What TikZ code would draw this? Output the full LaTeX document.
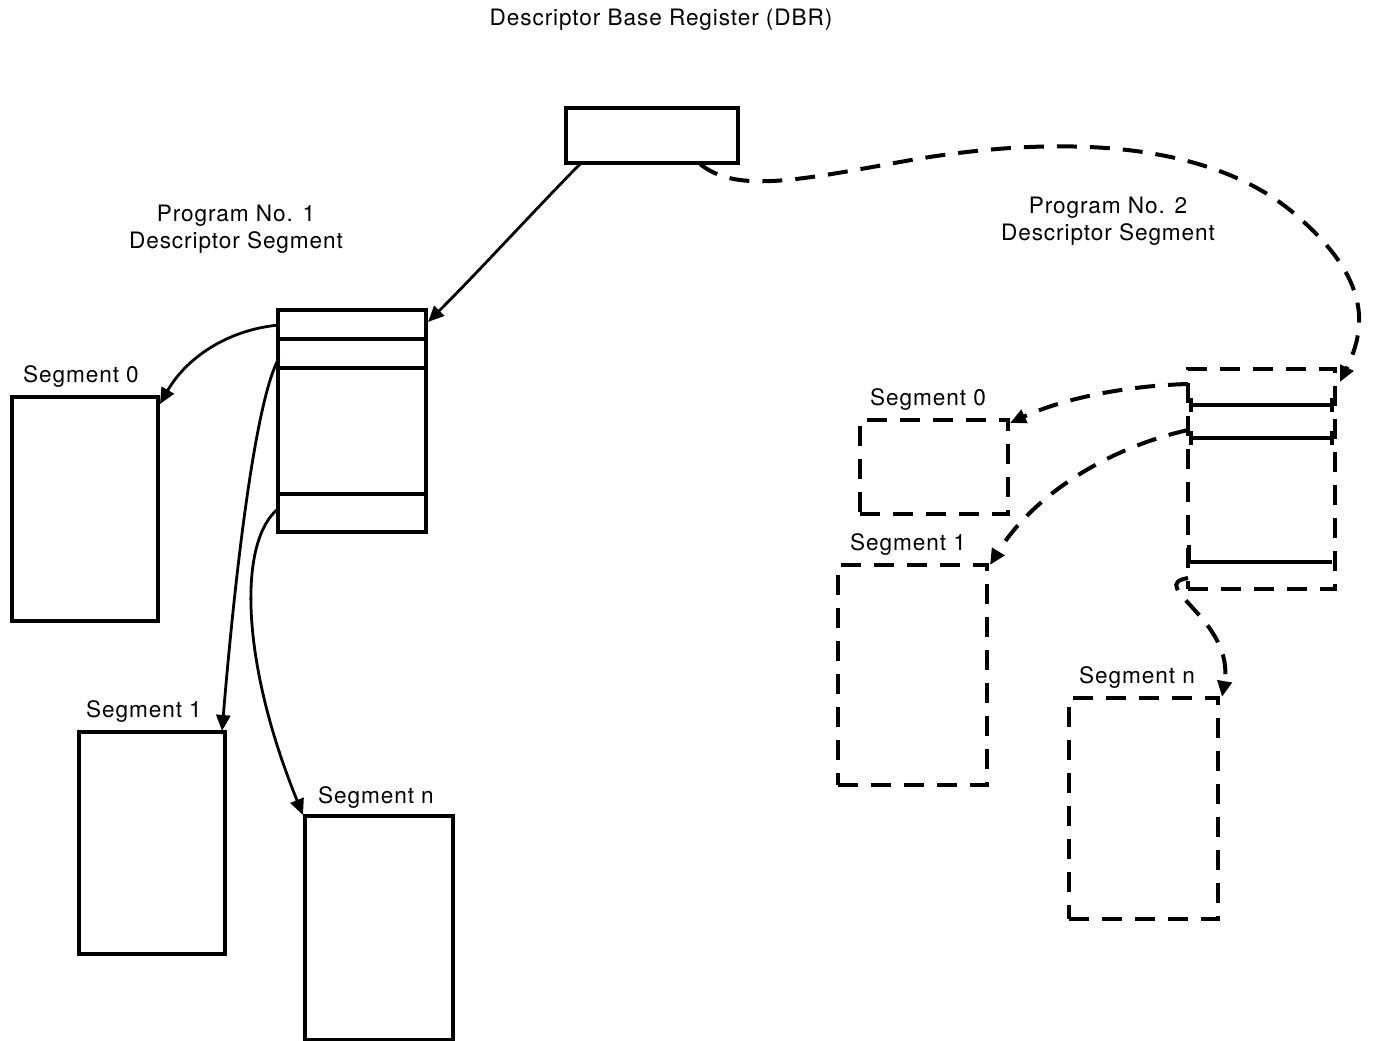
\documentclass[tikz,border=0pt]{standalone}
\usepackage{fontspec}
\setmainfont{TeX Gyre Heros}[LetterSpace=4]
\usetikzlibrary{arrows.meta}
\tikzset{
  solidbox/.style={draw, line width=2pt, rectangle, inner sep=0pt, outer sep=0pt, anchor=north west},
  dashbox/.style={draw, line width=2pt, rectangle, inner sep=0pt, outer sep=0pt, anchor=north west, dash pattern=on 10pt off 6.5pt},
  lbl/.style={font=\fontsize{11.3}{13.6}\selectfont, align=center, inner sep=0pt},
  conn/.style={line width=1.4pt, -{Triangle[length=8pt,width=7pt]}},
  dconn/.style={line width=2pt, dash pattern=on 10pt off 6.5pt, -{Triangle[length=8pt,width=7pt]}},
  row/.style={line width=2pt},
}
\begin{document}
\begin{tikzpicture}[x=0.5pt,y=-0.5pt]
\useasboundingbox (0,0) rectangle (1376,1040);
% Title
\node[lbl] (title) at (661,20) {Descriptor Base Register (DBR)};
% DBR
\node[solidbox, minimum width=86pt, minimum height=27.5pt] (dbr) at (566,108) {};
% Program 1
\node[lbl] (p1lbl) at (236,229) {Program No. 1\\Descriptor Segment};
\node[solidbox, minimum width=74pt, minimum height=111pt] (ds1) at (278,310) {};
\draw[row] (278,339) -- (426,339);
\draw[row] (278,368) -- (426,368);
\draw[row] (278,494) -- (426,494);
\node[solidbox, minimum width=73pt, minimum height=112pt] (s0L) at (12,397) {};
\node[lbl] (s0Llbl) at (81,377) {Segment 0};
\node[solidbox, minimum width=73pt, minimum height=111pt] (s1L) at (79,732) {};
\node[lbl] (s1Llbl) at (144,712) {Segment 1};
\node[solidbox, minimum width=74pt, minimum height=112pt] (snL) at (305,816) {};
\node[lbl] (snLlbl) at (376,798) {Segment n};
% Program 2
\node[lbl] (p2lbl) at (1108,221) {Program No. 2\\Descriptor Segment};
\node[dashbox, minimum width=73.5pt, minimum height=110pt] (ds2) at (1188,369) {};
\draw[row, {Bar[width=7pt]}-{Bar[width=7pt]}] (1189,405) -- (1334,405);
\draw[row, {Bar[width=7pt]}-{Bar[width=7pt]}] (1189,438) -- (1334,438);
\draw[row] (1189,545) -- (1189,562) -- (1332,562);
\node[dashbox, minimum width=74pt, minimum height=47pt] (s0R) at (860,420) {};
\node[lbl] (s0Rlbl) at (928,400) {Segment 0};
\node[dashbox, minimum width=74.5pt, minimum height=110pt] (s1R) at (838,565) {};
\node[lbl] (s1Rlbl) at (908,545) {Segment 1};
\node[dashbox, minimum width=74.5pt, minimum height=110.5pt] (snR) at (1069,698) {};
\node[lbl] (snRlbl) at (1137,678) {Segment n};
% connector end points
\coordinate (a1) at (580,164);
\coordinate (a1e) at (428,322);
\coordinate (b0) at (279,325);
\coordinate (b0e) at (160,404);
\coordinate (b1) at (279,358);
\coordinate (b1e) at (222,731);
\coordinate (bn) at (279,508);
\coordinate (bne) at (303,815);
\coordinate (c1) at (700,164);
\coordinate (c1e) at (1340,382);
\coordinate (d0) at (1188,384);
\coordinate (d0e) at (1010,423);
\coordinate (d1) at (1188,430);
\coordinate (d1e) at (990,565);
\coordinate (dn) at (1188,578);
\coordinate (dne) at (1222,697);
% solid connectors
\draw[conn] (a1) .. controls (530,215) and (480,270) .. (a1e);
\draw[conn] (b0) .. controls (225,330) and (185,360) .. (b0e);
\draw[conn] (b1) .. controls (258,395) and (238,540) .. (b1e);
\draw[conn] (bn) .. controls (238,540) and (240,660) .. (bne);
% dashed connectors
\draw[dconn] (c1) .. controls (735,192) and (790,182) .. (900,162)
  .. controls (1020,140) and (1190,130) .. (1290,210)
  .. controls (1375,280) and (1365,330) .. (c1e);
\draw[dconn] (d0) .. controls (1120,386) and (1060,400) .. (d0e);
\draw[dconn] (d1) .. controls (1100,450) and (1030,500) .. (d1e);
\draw[dconn] (dn) .. controls (1145,585) and (1235,620) .. (dne);
\end{tikzpicture}
\end{document}
